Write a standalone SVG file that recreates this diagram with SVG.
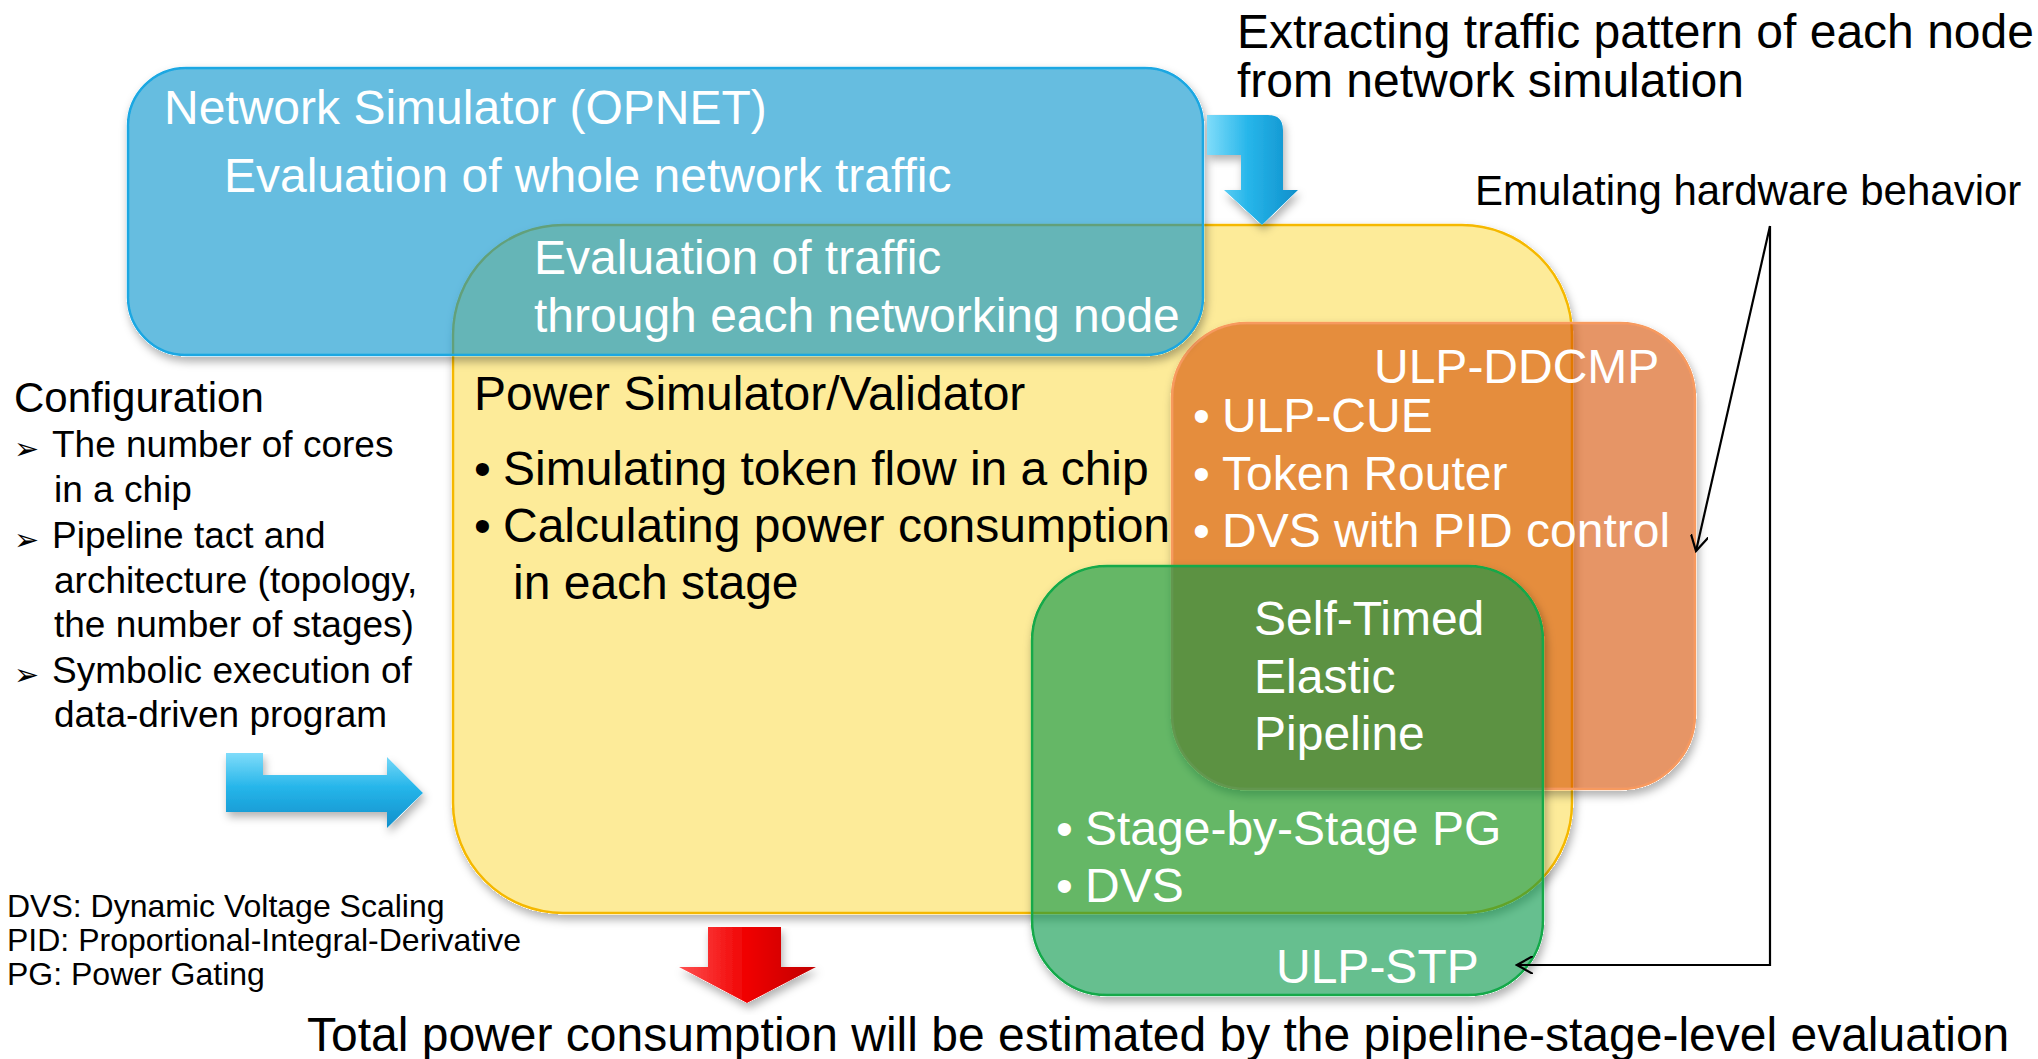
<svg xmlns="http://www.w3.org/2000/svg" width="2038" height="1059" viewBox="0 0 2038 1059">
<style>
text{font-family:"Liberation Sans",Arial,sans-serif}
.w{fill:#fff;font-size:48px}
.k{fill:#000;font-size:48px}
.c{fill:#000;font-size:37px}
.s{fill:#000;font-size:32px}
.bul{fill:#000;font-size:30px;font-family:"DejaVu Sans",sans-serif}
.box{stroke-width:2.5}
.conn{fill:none;stroke:#000;stroke-width:2.2}
</style>
<defs>
<filter id="sh" x="-5%" y="-5%" width="115%" height="120%">
<feComponentTransfer in="SourceAlpha" result="solid"><feFuncA type="linear" slope="20"/></feComponentTransfer>
<feGaussianBlur in="solid" stdDeviation="4" result="blur"/>
<feOffset in="blur" dx="2" dy="5" result="off"/>
<feComposite in="off" in2="solid" operator="out" result="outside"/>
<feFlood flood-color="#000" flood-opacity="0.3"/>
<feComposite in2="outside" operator="in" result="shadow"/>
<feMerge><feMergeNode in="shadow"/><feMergeNode in="SourceGraphic"/></feMerge>
</filter>
<linearGradient id="bh" x1="0" y1="0" x2="0" y2="1">
<stop offset="0" stop-color="#7fdcfa"/><stop offset="0.45" stop-color="#27b6ea"/><stop offset="1" stop-color="#0f8fcb"/>
</linearGradient>
<linearGradient id="bv" x1="0" y1="0" x2="1" y2="0">
<stop offset="0" stop-color="#7fdcfa"/><stop offset="0.45" stop-color="#27b6ea"/><stop offset="1" stop-color="#0f8fcb"/>
</linearGradient>
<linearGradient id="rg" x1="0" y1="0" x2="1" y2="0">
<stop offset="0" stop-color="#ff5050"/><stop offset="0.5" stop-color="#f00000"/><stop offset="1" stop-color="#c00000"/>
</linearGradient>
<marker id="open" viewBox="0 0 18 18" refX="16" refY="9" markerWidth="18" markerHeight="18" orient="auto" markerUnits="userSpaceOnUse">
<path d="M0,0 L16,9 L0,18" fill="none" stroke="#000" stroke-width="2.2"/>
</marker>
</defs>
<rect width="2038" height="1059" fill="#fff"/>

<g id="power-simulator">
<rect class="box" x="453" y="225" width="1119" height="688" rx="110" ry="110" fill="#fdeb99" stroke="#f5b800" filter="url(#sh)"/>
</g>
<g id="ulp-ddcmp">
<rect class="box" x="1172" y="323" width="523" height="466" rx="75" ry="75" fill="rgb(213,78,10)" fill-opacity="0.6" stroke="#f79a5e" filter="url(#sh)"/>
</g>
<g id="ulp-stp">
<rect class="box" x="1032" y="566" width="511" height="429" rx="75" ry="75" fill="rgb(0,148,68)" fill-opacity="0.6" stroke="#12a94a" filter="url(#sh)"/>
</g>
<g id="network-simulator">
<rect class="box" x="128" y="68" width="1075" height="287" rx="58" ry="58" fill="rgb(0,145,203)" fill-opacity="0.6" stroke="#1aa7e2" filter="url(#sh)"/>
</g>

<g id="labels-network">
<text class="w" x="164" y="124">Network Simulator (OPNET)</text>
<text class="w" x="224" y="192">Evaluation of whole network traffic</text>
<text class="w" x="534" y="274">Evaluation of traffic</text>
<text class="w" x="534" y="332">through each networking node</text>
</g>
<g id="labels-power">
<text class="k" x="474" y="410">Power Simulator/Validator</text>
<text class="k" x="474" y="485">•</text>
<text class="k" x="503" y="485">Simulating token flow in a chip</text>
<text class="k" x="474" y="542">•</text>
<text class="k" x="503" y="542">Calculating power consumption</text>
<text class="k" x="513" y="599">in each stage</text>
</g>
<g id="labels-ddcmp">
<text class="w" x="1374" y="383">ULP-DDCMP</text>
<text class="w" x="1193" y="432">•</text>
<text class="w" x="1222" y="432">ULP-CUE</text>
<text class="w" x="1193" y="490">•</text>
<text class="w" x="1222" y="490">Token Router</text>
<text class="w" x="1193" y="547">•</text>
<text class="w" x="1222" y="547">DVS with PID control</text>
</g>
<g id="labels-stp">
<text class="w" x="1254" y="635">Self-Timed</text>
<text class="w" x="1254" y="693">Elastic</text>
<text class="w" x="1254" y="750">Pipeline</text>
<text class="w" x="1056" y="845">•</text>
<text class="w" x="1085" y="845">Stage-by-Stage PG</text>
<text class="w" x="1056" y="902">•</text>
<text class="w" x="1085" y="902">DVS</text>
<text class="w" x="1276" y="983">ULP-STP</text>
</g>

<g id="config">
<text class="k" x="14" y="412" style="font-size:42px">Configuration</text>
<text class="bul" x="14" y="459">➢</text>
<text class="c" x="52" y="457">The number of cores</text>
<text class="c" x="54" y="502">in a chip</text>
<text class="bul" x="14" y="550">➢</text>
<text class="c" x="52" y="548">Pipeline tact and</text>
<text class="c" x="54" y="593">architecture (topology,</text>
<text class="c" x="54" y="637">the number of stages)</text>
<text class="bul" x="14" y="685">➢</text>
<text class="c" x="52" y="683">Symbolic execution of</text>
<text class="c" x="54" y="727">data-driven program</text>
</g>

<g id="legend">
<text class="s" x="7" y="917">DVS: Dynamic Voltage Scaling</text>
<text class="s" x="7" y="951">PID: Proportional-Integral-Derivative</text>
<text class="s" x="7" y="985">PG: Power Gating</text>
</g>

<g id="captions">
<text class="k" x="1237" y="48">Extracting traffic pattern of each node</text>
<text class="k" x="1237" y="97">from network simulation</text>
<text class="k" x="1475" y="205" style="font-size:42px">Emulating hardware behavior</text>
<text class="k" x="307" y="1051">Total power consumption will be estimated by the pipeline-stage-level evaluation</text>
</g>

<g id="block-arrows">
<path d="M1207,115 L1268,115 Q1283,115 1283,130 L1283,190 L1298,190 L1262,225 L1224,190 L1241,190 L1241,155 L1207,155 Z" fill="url(#bv)" filter="url(#sh)"/>
<path d="M226,753 L263,753 L263,775 L387,775 L387,757 L423,793 L387,828 L387,812 L226,812 Z" fill="url(#bh)" filter="url(#sh)"/>
<path d="M708,927 L781,927 L781,967 L816,967 L747,1003 L679,967 L708,967 Z" fill="url(#rg)" filter="url(#sh)"/>
</g>

<g id="connectors">
<path class="conn" d="M1770,226 L1696,551" marker-end="url(#open)"/>
<path class="conn" d="M1770,226 L1770,965 L1517,965" marker-end="url(#open)"/>
</g>
</svg>
